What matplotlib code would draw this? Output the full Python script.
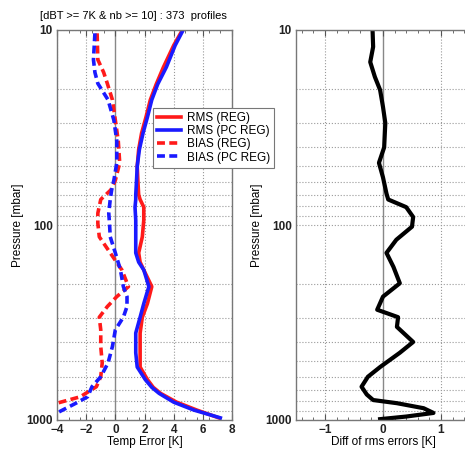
import numpy as np
import matplotlib
matplotlib.use('Agg')
import matplotlib.pyplot as plt
from matplotlib.ticker import MultipleLocator, NullFormatter

plt.rcParams['font.family'] = ['Liberation Sans', 'DejaVu Sans']

# pressure levels [mbar] and profiles
P_RMS = [10, 12, 15.5, 19, 22.8, 28, 33.8, 41, 50, 60, 70, 74, 81, 94.5, 115, 139,
         155, 170, 207, 253, 297, 358, 452, 535, 620, 680, 730, 810, 890, 975]
RMS_REG = [4.6, 4.0, 3.3, 2.8, 2.4, 2.1, 1.8, 1.6, 1.5, 1.55, 1.6, 1.7, 1.95, 1.95,
           1.85, 1.6, 1.7, 1.95, 2.5, 2.2, 1.85, 1.7, 1.7, 1.7, 2.2, 2.6, 3.1, 4.2,
           5.6, 7.1]
RMS_PC = [4.65, 4.1, 3.5, 2.9, 2.5, 2.2, 1.9, 1.65, 1.5, 1.45, 1.4, 1.4, 1.35, 1.4,
          1.4, 1.4, 1.6, 1.95, 2.3, 1.95, 1.7, 1.4, 1.4, 1.5, 2.05, 2.5, 3.0, 4.0,
          5.4, 7.2]

P_BIAS = [10.4, 14.2, 16.5, 18.8, 22.8, 29, 37, 48, 59, 66, 74, 87, 98, 115, 139, 170,
          207, 233, 262, 297, 345, 420, 510, 600, 675, 760, 820, 920]
BIAS_REG = [-1.25, -1.2, -0.8, -0.55, -0.2, 0.0, 0.2, 0.3, 0.0, -0.3, -1.0, -1.2,
            -1.2, -1.1, -0.35, 0.45, 0.9, 0.1, -0.55, -1.1, -1.0, -1.0, -0.9, -1.0,
            -1.3, -2.4, -4.0, None]
BIAS_PC = [-1.4, -1.5, -1.4, -1.2, -0.5, -0.1, 0.1, 0.1, -0.1, -0.25, -0.35, -0.45,
           -0.4, -0.35, 0.0, 0.35, 0.55, 0.8, 0.8, 0.55, 0.0, -0.2, -0.5, -1.0, -1.6,
           -1.9, -2.7, -4.0]

P_DIFF = [10, 12.2, 14.6, 17.4, 20.3, 24.8, 30, 40, 48, 57, 69, 74, 81, 91, 102, 119,
          139, 164, 199, 233, 272, 297, 333, 398, 452, 535, 600, 675, 740, 790, 820,
          870, 920, 960, 990]
DIFF = [-0.18, -0.17, -0.22, -0.14, -0.05, 0.0, 0.04, 0.02, -0.07, 0.0, 0.06, 0.09,
        0.4, 0.52, 0.5, 0.23, 0.06, 0.18, 0.29, 0.0, -0.1, 0.26, 0.24, 0.52, 0.29,
        -0.05, -0.26, -0.37, -0.28, -0.17, 0.24, 0.7, 0.87, 0.4, -0.05]

TITLE = "[dBT >= 7K & nb >= 10] : 373  profiles"

W, H = 465, 451
fig = plt.figure(figsize=(W / 100, H / 100), dpi=100)
ax1 = fig.add_axes([57 / W, 31 / H, 175 / W, 390 / H])
ax2 = fig.add_axes([296 / W, 31 / H, 174 / W, 390 / H])

GRID = dict(color='#999999', linestyle=':', linewidth=0.8)


def style_axis(ax, xlim, xticks, xminor, xlabel):
    ax.set_yscale('log')
    ax.set_ylim(1000, 10)
    ax.set_xlim(*xlim)
    ax.set_xticks(xticks)
    ax.xaxis.set_minor_locator(MultipleLocator(xminor))
    ax.set_yticks([10, 100, 1000])
    ax.set_yticklabels(['10', '100', '1000'])
    ax.yaxis.set_minor_formatter(NullFormatter())
    ax.tick_params(axis='x', which='both', direction='in', top=True, bottom=True,
                   labelsize=8.5, color='#555555', pad=3)
    ax.tick_params(axis='x', which='major', length=4)
    ax.tick_params(axis='x', which='minor', length=2)
    ax.tick_params(axis='y', which='both', length=0, labelsize=8.5, pad=3)
    for lab in ax.get_xticklabels() + ax.get_yticklabels():
        lab.set_fontweight('bold')
        lab.set_color('#222222')
    for s in ax.spines.values():
        s.set_color('#777777')
        s.set_linewidth(1.0)
    ax.grid(True, axis='y', which='both', **GRID)
    for xt in xticks:
        if xt != 0:
            ax.axvline(xt, **GRID, zorder=0)
    ax.axvline(0, color='#888888', linewidth=1.0, zorder=1)
    ax.set_xlabel(xlabel, fontsize=8.5, labelpad=0)
    ax.set_ylabel('Pressure [mbar]', fontsize=8.5, labelpad=2)


style_axis(ax1, (-4, 8), [-4, -2, 0, 2, 4, 6, 8], 0.8, 'Temp Error [K]')
style_axis(ax2, (-1.5, 1.5), [-1, 0, 1], 0.2, 'Diff of rms errors [K]')

bias_reg = np.array([np.nan if v is None else v for v in BIAS_REG])

l1, = ax1.plot(RMS_REG, P_RMS, color='#ff1a1a', lw=2.6, label='RMS (REG)')
l2, = ax1.plot(RMS_PC, P_RMS, color='#1a1aff', lw=2.6, label='RMS (PC REG)')
l3, = ax1.plot(bias_reg, P_BIAS, color='#ff1a1a', lw=2.6, ls=(0, (2.2, 1.2)),
               label='BIAS (REG)')
l4, = ax1.plot(BIAS_PC, P_BIAS, color='#1a1aff', lw=2.6, ls=(0, (2.2, 1.2)),
               label='BIAS (PC REG)')

ax2.plot(DIFF, P_DIFF, color='black', lw=3.0)

ax1.text(-0.097, 1.035, TITLE, transform=ax1.transAxes, fontsize=8,
         ha='left', va='center')

leg = fig.legend(handles=[l1, l2, l3, l4], loc='upper left',
                 bbox_to_anchor=(147 / W, 1 - 102 / H), fontsize=8.5,
                 handlelength=2.0, handletextpad=0.5, labelspacing=0.1,
                 borderpad=0.35, fancybox=False, framealpha=1,
                 edgecolor='#777777')
leg.get_frame().set_linewidth(0.8)

fig.savefig('out.png', dpi=100)
